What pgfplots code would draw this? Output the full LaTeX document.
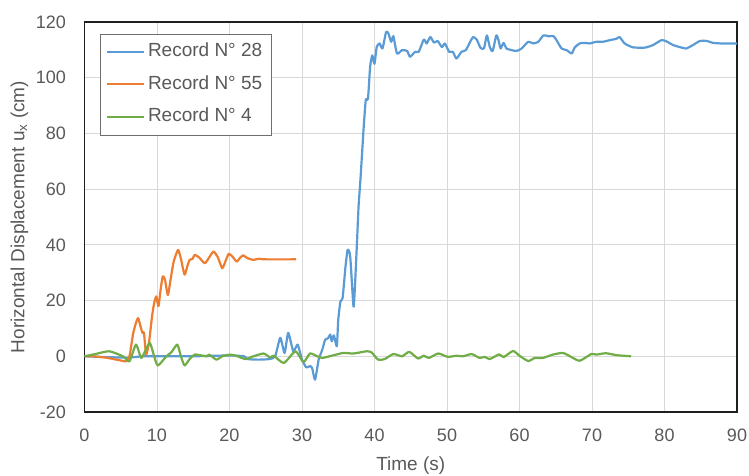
\documentclass[border=0pt]{standalone}
\usepackage{fontspec}
\setmainfont{Liberation Sans}
\usepackage{pgfplots}
\pgfplotsset{compat=1.18}
\definecolor{cblue}{HTML}{5B9BD5}
\definecolor{corange}{HTML}{ED7D31}
\definecolor{cgreen}{HTML}{70AD47}
\definecolor{textgray}{HTML}{595959}
\definecolor{gridgray}{HTML}{D9D9D9}
\definecolor{leggray}{HTML}{6E6E6E}
\begin{document}
\begin{tikzpicture}
\begin{axis}[
  name=ax,
  scale only axis, width=652.5pt, height=390pt,
  xmin=0, xmax=90, ymin=-20, ymax=120,
  xtick={0,10,...,90}, ytick={-20,0,20,40,60,80,100,120},
  grid=major, major grid style={color=gridgray, line width=1pt},
  axis line style={color=black!88, line width=1.2pt},
  major tick length=0pt,
  /pgf/number format/assume math mode=true,
  tick label style={font=\fontsize{18}{20}\selectfont, text=textgray, inner sep=0pt},
  xticklabel style={anchor=base, yshift=-29pt},
  yticklabel style={anchor=east, xshift=-18.5pt},
  xlabel={Time (s)},
  ylabel={Horizontal Displacement u\textsubscript{x} (cm)},
  label style={font=\fontsize{19}{22}\selectfont, text=textgray},
  xlabel style={at={(axis description cs:0.5,0)}, anchor=base, yshift=-58.5pt, inner sep=0pt},
  ylabel style={at={(axis description cs:-0.0996,0.5)}, anchor=center, inner sep=0pt},
  legend style={at={(axis description cs:0,1)}, anchor=north west, xshift=15pt, yshift=-12pt,
    draw=leggray, line width=1pt, fill=white, font=\fontsize{19}{22}\selectfont, text=textgray,
    inner xsep=6pt, inner ysep=9.5pt, row sep=15.3pt,
    nodes={text height=13pt, text depth=4pt, inner ysep=0pt, inner xsep=3pt}},
  legend cell align=left,
  legend image code/.code={\draw[#1, line width=2pt] (0pt,0.3pt) -- (37pt,0.3pt);},
  every axis plot/.append style={line width=2.2pt, line join=round, smooth, tension=0.35},
]
\addplot[color=cblue] coordinates {
(0,0) (3,-0.3) (6,-0.5) (8,0) (10,0) (15,0) (20,0.3) (22,0) (22.5,-1) (24,-1.2) (25.5,-1) (26.3,0)
(27.0,6.6) (27.6,1.2) (28.1,8.4) (28.8,1.8) (29.4,4.2) (30.0,-1.2) (30.6,-4) (31.1,-3.5) (31.4,-4.2)
(31.8,-8.4) (32.3,-1.2) (32.8,2.4) (33.2,6) (33.6,6.5) (33.9,7.8) (34.1,5.4) (34.4,7.5) (34.8,3.6)
(35.0,13.1) (35.3,19.7) (35.6,20.9) (36.0,32.2) (36.3,38.2) (36.65,35.8) (37.1,17.9) (37.3,25)
(37.6,41.8) (37.8,53.7) (38.1,65) (38.5,81.9) (38.8,92) (39.1,92.5) (39.4,104) (39.7,108) (40,105)
(40.3,111) (40.7,112.3) (41.1,110.5) (41.6,116.4) (41.9,116) (42.3,112.9) (42.6,114.9) (43.1,108.7)
(43.8,109.9) (44.5,109.6) (44.9,107.5) (45.6,109.3) (46.1,109.3) (46.8,113.7) (47.2,112.3) (47.7,114.6)
(48.2,112.6) (48.7,113.2) (49.3,111) (49.7,112.3) (50.3,109.3) (50.8,109.3) (51.3,106.9) (52.0,109.3)
(52.6,109.9) (53.2,112.9) (53.6,114.6) (54.1,113.7) (54.6,110.8) (55.1,110.5) (55.5,115.2) (55.9,111)
(56.3,109.6) (56.8,115.2) (57.1,113.5) (57.4,110.5) (57.8,112.5) (58.2,110.5) (58.9,109.9) (59.6,109.6)
(60.3,110.5) (61.2,112.9) (61.9,112.3) (62.6,112.9) (63.3,115.2) (64.0,114.9) (64.7,114.9) (65.1,113.5)
(65.8,110.5) (66.5,109.9) (67.2,108.7) (67.6,110.8) (68.3,112.3) (69.0,112.5) (69.7,112.3) (70.6,112.9)
(71.5,112.9) (72.5,113.5) (73.4,114) (73.8,114.6) (74.5,112.3) (75.5,111) (76.1,110.8) (77.3,110.8)
(78.4,111.7) (79.6,113.5) (80.3,113) (81.2,111.7) (82.1,111) (83.0,110.5) (83.9,111.7) (84.9,113.2)
(85.8,113.2) (86.7,112.5) (87.8,112.3) (90,112.3)
};
\addlegendentry{Record N° 28}
\addplot[color=corange] coordinates {
(0,0) (1,0) (2,-0.2) (3,-0.5) (4,-1) (5,-1.5) (5.7,-1.8) (6.2,0) (6.7,8) (7.1,12) (7.4,13.7) (7.7,11)
(8.0,8.4) (8.2,8.5) (8.5,0.6) (8.9,5) (9.3,14) (9.6,19) (9.9,21.5) (10.2,18) (10.5,24) (10.8,28.7)
(11.1,27.5) (11.5,22) (11.9,28) (12.3,34) (12.9,38.2) (13.3,35) (13.8,29.3) (14.2,32.5) (14.5,34.6)
(14.9,35) (15.2,36.4) (15.8,35.5) (16.6,33.4) (17.2,35.5) (17.8,37.6) (18.4,35.5) (19.0,31.6) (19.5,34.5)
(19.9,36.8) (20.4,35.8) (21.0,34) (21.5,35.5) (21.9,36.2) (22.5,35.2) (23.3,34.6) (24,35) (25,34.8) (29.2,34.8)
};
\addlegendentry{Record N° 55}
\addplot[color=cgreen] coordinates {
(0,0) (1.5,0.8) (3.4,1.8) (5.3,0) (6.2,-1.8) (7.1,4.2) (7.8,-0.6) (8.3,1.5) (9.0,4.8) (9.5,1) (10.1,-3.3)
(11.3,0) (12.0,1.5) (12.8,4.2) (13.3,0) (13.8,-3.3) (14.5,-1) (15.2,0.6) (16.1,0.3) (16.9,0) (17.2,0.6)
(18.2,-1.2) (19,0) (20.1,0.6) (21,0.1) (22.2,-1) (23.3,0) (24.7,1) (25.6,-0.4) (26.1,0.2) (27.5,-2.4)
(29.1,1.8) (30.2,-2.1) (31.1,1) (32.1,0) (32.8,-0.6) (34.4,0.4) (35.7,1.2) (37.1,1) (38.9,1.8) (39.6,1.4)
(40.5,-1.2) (41.4,-1) (42.6,0.8) (43.8,0) (44.8,1.6) (46.0,-0.8) (46.8,0.2) (47.5,-0.6) (48.8,1)
(50.1,-0.2) (51.3,0.2) (52.2,0) (53.4,0.8) (54.5,-0.6) (55.2,-0.2) (55.9,-1) (57.2,0.7) (57.8,-0.3)
(59.1,1.9) (60.0,0.2) (61.2,-1.7) (62.1,-0.6) (63.2,-0.6) (64.6,0.6) (66.0,1.2) (67.1,-0.2) (68.3,-1.6)
(69.9,0.8) (70.6,0.6) (71.9,1.1) (73.4,0.4) (75.4,0)
};
\addlegendentry{Record N° 4}
\end{axis}
\pgfresetboundingbox
\useasboundingbox ([shift={(-84.5pt,-63pt)}]ax.south west) rectangle ([shift={(12pt,22pt)}]ax.north east);
\end{tikzpicture}
\end{document}
